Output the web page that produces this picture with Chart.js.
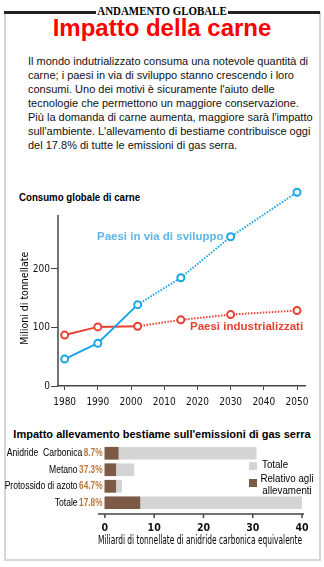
<!DOCTYPE html>
<html>
<head>
<meta charset="utf-8">
<script src="https://cdn.jsdelivr.net/npm/chart.js@4"></script>
<style>
  html, body { margin: 0; padding: 0; background: #fff; }
  body { width: 324px; height: 567px; position: relative; overflow: hidden; font-family: "Liberation Sans", Arial, sans-serif; }
  .frame { position: absolute; left: 4px; top: 12px; width: 313px; height: 547px; border: 2px solid #d6d6d6; border-top: none; }
  .rule { position: absolute; top: 11px; height: 3px; background: #222; }
  .kicker { position: absolute; left: 62px; top: 3px; width: 200px; text-align: center; white-space: nowrap; font: bold 13px/15px "Liberation Serif", "Times New Roman", serif; color: #000; transform: scaleX(0.84); }
  h1 { position: absolute; left: 0; top: 15px; width: 324px; margin: 0; text-align: center; white-space: nowrap; font: bold 24px/25px "Liberation Sans", Arial, sans-serif; color: #f00; }
  .intro { position: absolute; left: 28px; top: 54px; width: 292px; margin: 0; white-space: nowrap; font-size: 11px; line-height: 14px; color: #111; }
  .t1 { position: absolute; left: 19px; top: 191px; white-space: nowrap; font: bold 11px "Liberation Sans", Arial, sans-serif; color: #000; transform: scaleX(0.88); transform-origin: left center; }
  .t2 { position: absolute; left: 0; top: 428px; width: 324px; text-align: center; white-space: nowrap; font: bold 11px "Liberation Sans", Arial, sans-serif; color: #000; }
  canvas { position: absolute; }
</style>
</head>
<body>
<div class="frame"></div>
<div class="rule" style="left:4px;width:92px"></div>
<div class="rule" style="left:228px;width:92px"></div>
<div class="kicker">ANDAMENTO GLOBALE</div>
<h1>Impatto della carne</h1>
<p class="intro">Il mondo indutrializzato consuma una notevole quantità di<br>carne; i paesi in via di sviluppo stanno crescendo i loro<br>consumi. Uno dei motivi è sicuramente l'aiuto delle<br>tecnologie che permettono un maggiore conservazione.<br>Più la domanda di carne aumenta, maggiore sarà l'impatto<br>sull'ambiente. L'allevamento di bestiame contribuisce oggi<br>del 17.8% di tutte le emissioni di gas serra.</p>
<div class="t1">Consumo globale di carne</div>
<div class="t2">Impatto allevamento bestiame sull'emissioni di gas serra</div>
<div style="position:absolute;left:0;top:180px;width:324px;height:230px"><canvas id="lineChart"></canvas></div>
<div style="position:absolute;left:0;top:440px;width:324px;height:108px"><canvas id="barChart"></canvas></div>
<script>
const NARROW = '"Liberation Sans Narrow", "DejaVu Sans Condensed", Arial, sans-serif';

// Consumo globale di carne (milioni di tonnellate)
const years = [1980, 1990, 2002, 2015, 2030, 2050];
const sviluppo = [46, 73, 139, 185, 255, 331];
const industrializzati = [87, 101, 102, 113, 122, 129];
const yearTicks = [1980, 1990, 2000, 2010, 2020, 2030, 2040, 2050];

// Emissioni di gas serra (miliardi di tonnellate CO2 equivalente)
const gases = ['Anidride  Carbonica', 'Metano', 'Protossido di azoto', 'Totale'];
const shares = ['8.7%', '37.3%', '64.7%', '17.8%'];
const totale = [30.7, 5.9, 3.4, 40];
const allevamenti = [2.7, 2.2, 2.2, 7.1];

const BLUE = '#1aa6e6';
const RED = '#e8412f';
const BROWN = '#7d5a45';
const GREY = '#d4d4d4';
const PCT = '#b8763d';

const pts = (ys) => years.map((x, i) => ({ x: x, y: ys[i] }));
const dotted = { borderDash: (c) => c.p0DataIndex >= 2 ? [1.5, 1.5] : undefined };

// squeezed text, since no narrow font is around
const squeeze = (ctx, text, x, y, align, k) => {
    ctx.save();
    ctx.translate(x, y);
    ctx.scale(k, 1);
    ctx.textAlign = align;
    ctx.fillText(text, 0, 0);
    ctx.restore();
    return ctx.measureText(text).width * k;
};

const lineLabels = {
    id: 'lineLabels',
    afterDraw(chart) {
        const ctx = chart.ctx;
        const y = chart.scales.y;
        const left = chart.chartArea.left;
        ctx.save();
        // y axis line stops short of the top of the plot
        ctx.strokeStyle = '#444';
        ctx.lineWidth = 1.5;
        ctx.beginPath();
        ctx.moveTo(left, y.getPixelForValue(292));
        ctx.lineTo(left, y.getPixelForValue(0));
        ctx.stroke();
        ctx.font = 'bold 11.5px "Liberation Sans", Arial, sans-serif';
        ctx.textBaseline = 'middle';
        ctx.fillStyle = '#5db5e8';
        ctx.fillText('Paesi in via di sviluppo', 97, 57);
        ctx.fillStyle = RED;
        ctx.fillText('Paesi industrializzati', 190, 147);
        // y axis title
        ctx.translate(25, y.getPixelForValue(150));
        ctx.rotate(-Math.PI / 2);
        ctx.textAlign = 'center';
        ctx.fillStyle = '#000';
        ctx.font = '10.5px ' + NARROW;
        ctx.fillText('Milioni di tonnellate', 0, 0);
        ctx.restore();
    }
};

new Chart(document.getElementById('lineChart'), {
    type: 'line',
    data: {
        datasets: [{
            data: pts(sviluppo),
            borderColor: BLUE,
            borderWidth: 2,
            pointBackgroundColor: '#fff',
            pointBorderColor: BLUE,
            pointBorderWidth: 2,
            pointRadius: 3.5,
            clip: false,
            segment: dotted
        }, {
            data: pts(industrializzati),
            borderColor: RED,
            borderWidth: 2,
            pointBackgroundColor: '#fff',
            pointBorderColor: RED,
            pointBorderWidth: 2,
            pointRadius: 3.5,
            clip: false,
            segment: dotted
        }]
    },
    options: {
        responsive: true,
        maintainAspectRatio: false,
        animation: false,
        layout: { padding: { top: 3.4, right: 19, left: 0, bottom: 0 } },
        plugins: { legend: { display: false }, tooltip: { enabled: false } },
        scales: {
            x: {
                type: 'linear',
                min: 1978,
                max: 2052.4,
                afterBuildTicks: (s) => { s.ticks = yearTicks.map(v => ({ value: v })); },
                afterFit: (s) => { s.height = 24; },
                ticks: { callback: (v) => String(v), color: '#111', font: { family: NARROW, size: 10 }, padding: 6, maxRotation: 0 },
                grid: { drawOnChartArea: false, tickLength: 4, color: '#444' },
                border: { color: '#444', width: 1.5 }
            },
            y: {
                min: 0,
                max: 340,
                afterBuildTicks: (s) => { s.ticks = [0, 100, 200].map(v => ({ value: v })); },
                afterFit: (s) => { s.width = 58; },
                ticks: { color: '#111', font: { family: NARROW, size: 10 }, padding: 1 },
                grid: { drawOnChartArea: false, tickLength: 7, color: '#444' },
                border: { display: false }
            }
        }
    },
    plugins: [lineLabels]
});

const barDecor = {
    id: 'barDecor',
    afterDraw(chart) {
        const ctx = chart.ctx;
        const x = chart.scales.x;
        const y = chart.scales.y;
        const axisY = chart.chartArea.bottom + 3;
        ctx.save();
        // x axis line and ticks
        ctx.strokeStyle = '#444';
        ctx.lineWidth = 1.5;
        ctx.beginPath();
        ctx.moveTo(x.getPixelForValue(-1.4), axisY);
        ctx.lineTo(chart.chartArea.right + 2, axisY);
        [0, 10, 20, 30, 40].forEach(v => {
            const px = x.getPixelForValue(v);
            ctx.moveTo(px, axisY);
            ctx.lineTo(px, axisY + 4);
        });
        ctx.stroke();
        // category labels: name + share
        ctx.textBaseline = 'middle';
        gases.forEach((g, i) => {
            const py = y.getPixelForValue(i);
            ctx.fillStyle = PCT;
            ctx.font = 'bold 11px "Liberation Sans", Arial, sans-serif';
            const w = squeeze(ctx, shares[i], 102.5, py, 'right', 0.75);
            ctx.fillStyle = '#000';
            ctx.font = '11px "Liberation Sans", Arial, sans-serif';
            squeeze(ctx, g, 102.5 - w - 1.5, py, 'right', 0.78);
        });
        // legend
        ctx.fillStyle = GREY;
        ctx.fillRect(249, 22, 8, 8);
        ctx.fillStyle = BROWN;
        ctx.fillRect(249, 39, 8, 8);
        ctx.fillStyle = '#000';
        ctx.font = '11.5px "Liberation Sans", Arial, sans-serif';
        squeeze(ctx, 'Totale', 262, 25, 'left', 0.85);
        squeeze(ctx, 'Relativo agli', 287, 39, 'center', 0.85);
        squeeze(ctx, 'allevamenti', 287, 51, 'center', 0.85);
        ctx.restore();
    }
};

new Chart(document.getElementById('barChart'), {
    type: 'bar',
    data: {
        labels: gases,
        datasets: [{
            label: 'Relativo agli allevamenti',
            data: allevamenti,
            backgroundColor: BROWN,
            barThickness: 12,
            grouped: false
        }, {
            label: 'Totale',
            data: totale,
            backgroundColor: GREY,
            barThickness: 12,
            grouped: false
        }]
    },
    options: {
        indexAxis: 'y',
        responsive: true,
        maintainAspectRatio: false,
        animation: false,
        layout: { padding: { top: 5, right: 22, left: 0, bottom: 0 } },
        plugins: { legend: { display: false }, tooltip: { enabled: false } },
        scales: {
            x: {
                min: -1.4,
                max: 40,
                afterBuildTicks: (s) => { s.ticks = [0, 10, 20, 30, 40].map(v => ({ value: v })); },
                afterFit: (s) => { s.height = 37; },
                ticks: { color: '#111', font: { family: NARROW, size: 10.5, weight: 'bold' }, padding: 3 },
                grid: { display: false },
                border: { display: false },
                title: { display: true, text: 'Miliardi di tonnellate di anidride carbonica equivalente', color: '#000', font: { family: NARROW, size: 11.8 }, padding: { top: 1, bottom: 0 } }
            },
            y: {
                afterFit: (s) => { s.width = 98; },
                ticks: { display: false },
                grid: { display: false },
                border: { display: false }
            }
        }
    },
    plugins: [barDecor]
});
</script>
</body>
</html>
